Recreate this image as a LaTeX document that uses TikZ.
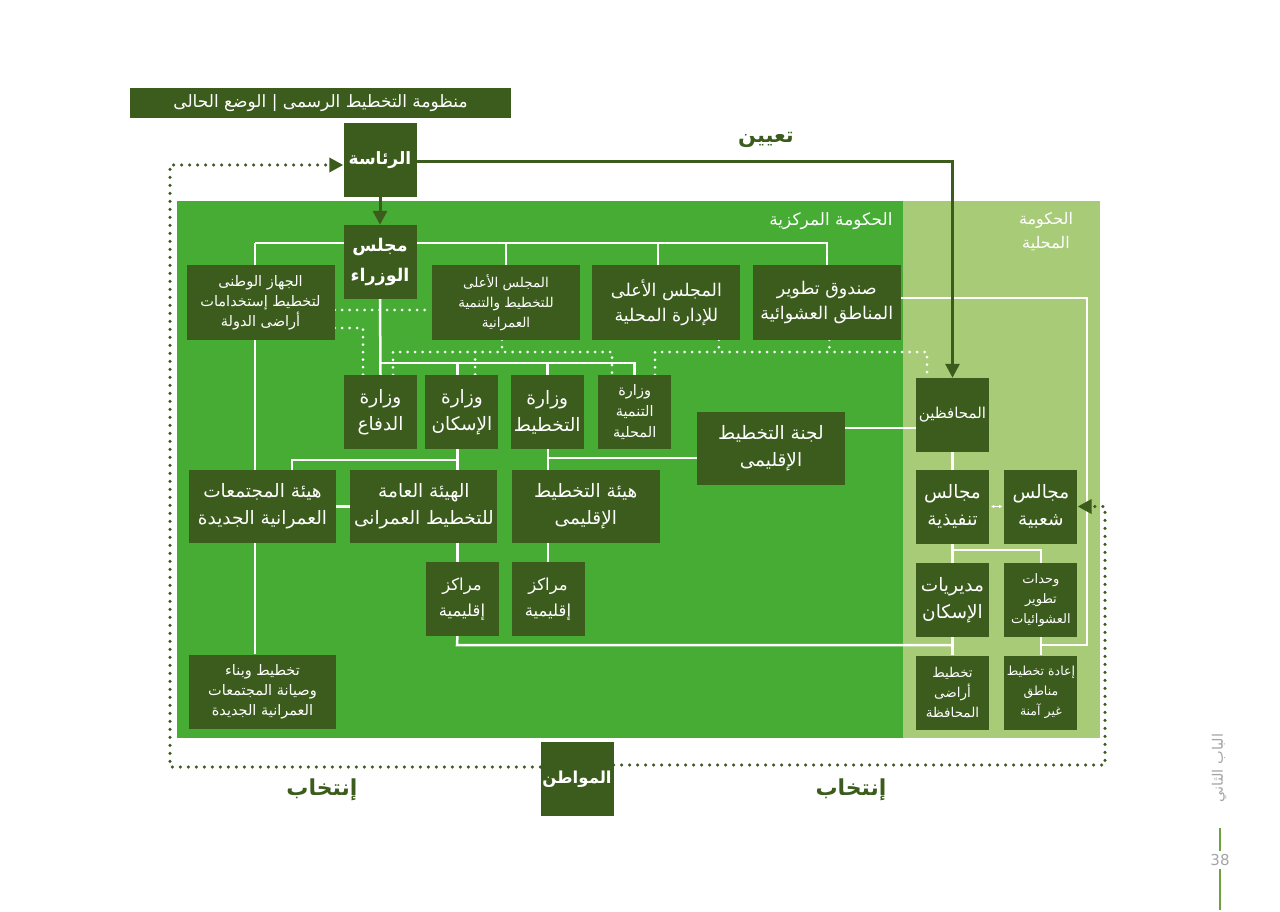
\documentclass[tikz,border=0pt]{standalone}
\usepackage{fontspec}
\usepackage{tikz}
\usetikzlibrary{arrows.meta,positioning}
\newfontfamily\arabicfont[Script=Arabic]{DejaVu Sans}
\newfontfamily\sidefont{DejaVu Sans}
\TeXXeTstate=1
\pgfdeclarelayer{background layer}
\pgfdeclarelayer{line layer}
\pgfsetlayers{background layer,line layer,main}
\definecolor{dkgreen}{RGB}{60,92,30}
\definecolor{midgreen}{RGB}{70,172,52}
\definecolor{ltgreen}{RGB}{168,203,120}
\definecolor{pagegrey}{RGB}{165,165,165}
\definecolor{pagegreen}{RGB}{110,160,60}
\newcommand{\rl}[1]{\beginR #1\endR}

\begin{document}
\begin{tikzpicture}[x=1pt,y=-1pt]
\tikzstyle{darkbox}=[fill=dkgreen,text=white,inner sep=0pt,align=center]
\tikzstyle{sqbox}=[darkbox,minimum width=73pt,minimum height=74pt]
\tikzstyle{widebox}=[darkbox,minimum width=148pt,minimum height=74pt]
\tikzstyle{smalltext}=[font=\arabicfont\fontsize{14.5}{20}\selectfont]
\tikzstyle{tinytext}=[font=\arabicfont\fontsize{13.5}{20}\selectfont]
\tikzstyle{midtext}=[font=\arabicfont\fontsize{17.5}{25}\selectfont]
\tikzstyle{largetext}=[font=\arabicfont\fontsize{18.5}{27}\selectfont]
\tikzstyle{bigtext}=[font=\arabicfont\bfseries\fontsize{17.5}{30}\selectfont]
\tikzstyle{wline}=[white,line width=2.5pt]
\tikzstyle{wdots}=[white,line width=3pt,line cap=round,dash pattern=on 0pt off 7.5pt]
\tikzstyle{gdots}=[dkgreen,line width=3.5pt,line cap=round,dash pattern=on 0pt off 8pt]
\tikzstyle{garrow}=[dkgreen,line width=3pt,-{Triangle[length=14pt,width=14pt]}]
\useasboundingbox (0,0) rectangle (1280,912);
% regions
\begin{pgfonlayer}{background layer}
\fill [midgreen] (177,201) rectangle (903,738);
\fill [ltgreen] (903,201) rectangle (1100,738);
\end{pgfonlayer}
\node [darkbox,minimum width=381pt,minimum height=30pt,font=\arabicfont\fontsize{17}{20}\selectfont] (title) at (320.5,103) {\rl{منظومة التخطيط الرسمى | الوضع الحالى}};
\node [white,anchor=east,font=\arabicfont\fontsize{17}{20}\selectfont] (markazia) at (896,221) {\rl{الحكومة المركزية}};
\node [white,align=center,font=\arabicfont\fontsize{16}{24}\selectfont] (mahallia) at (1046,232) {\rl{الحكومة}\\\rl{المحلية}};
% central government
\node [sqbox,bigtext,font=\arabicfont\bfseries\fontsize{17}{28}\selectfont] (riasa) at (380,160) {\rl{الرئاسة}};
\node [sqbox,bigtext] (wuzara) at (380,262) {\rl{مجلس}\\\rl{الوزراء}};
\node [widebox,smalltext] (jihaz) at (260.5,302.5) {\rl{الجهاز الوطنى}\\\rl{لتخطيط إستخدامات}\\\rl{أراضى الدولة}};
\node [widebox,tinytext] (aala) at (506,302.5) {\rl{المجلس الأعلى}\\\rl{للتخطيط والتنمية}\\\rl{العمرانية}};
\node [widebox,midtext,right=12pt of aala] (idara) {\rl{المجلس الأعلى}\\\rl{للإدارة المحلية}};
\node [widebox,midtext,right=12pt of idara] (sunduq) {\rl{صندوق تطوير}\\\rl{المناطق العشوائية}};
\node [sqbox,largetext] (difaa) at (380.5,412) {\rl{وزارة}\\\rl{الدفاع}};
\node [sqbox,largetext,right=8pt of difaa] (iskan) {\rl{وزارة}\\\rl{الإسكان}};
\node [sqbox,largetext,right=12pt of iskan] (takhtit) {\rl{وزارة}\\\rl{التخطيط}};
\node [sqbox,font=\arabicfont\fontsize{14.5}{21}\selectfont,right=14pt of takhtit] (tanmia) {\rl{وزارة}\\\rl{التنمية}\\\rl{المحلية}};
\node [widebox,largetext,minimum height=73pt] (lajna) at (771,448.5) {\rl{لجنة التخطيط}\\\rl{الإقليمى}};
\node [widebox,largetext,minimum width=147pt,minimum height=73pt] (mujtamaat) at (262.5,506.5) {\rl{هيئة المجتمعات}\\\rl{العمرانية الجديدة}};
\node [widebox,largetext,minimum width=147pt,minimum height=73pt,right=14pt of mujtamaat] (amma) {\rl{الهيئة العامة}\\\rl{للتخطيط العمرانى}};
\node [widebox,largetext,minimum height=73pt,right=14pt of amma] (iqlimi) {\rl{هيئة التخطيط}\\\rl{الإقليمى}};
\node [sqbox,font=\arabicfont\fontsize{16.5}{26}\selectfont] (markaz1) at (462,599) {\rl{مراكز}\\\rl{إقليمية}};
\node [sqbox,font=\arabicfont\fontsize{16.5}{26}\selectfont] (markaz2) at (548,599) {\rl{مراكز}\\\rl{إقليمية}};
\node [widebox,smalltext,minimum width=147pt] (bina) at (262.5,691.5) {\rl{تخطيط وبناء}\\\rl{وصيانة المجتمعات}\\\rl{العمرانية الجديدة}};
% local government
\node [sqbox,font=\arabicfont\fontsize{15}{18}\selectfont] (muhafizin) at (952.5,415) {\rl{المحافظين}};
\node [sqbox,largetext] (tanfizia) at (952.5,506.5) {\rl{مجالس}\\\rl{تنفيذية}};
\node [sqbox,largetext,right=15pt of tanfizia] (shaabia) {\rl{مجالس}\\\rl{شعبية}};
\node [sqbox,largetext] (mudiriat) at (952.5,600) {\rl{مديريات}\\\rl{الإسكان}};
\node [sqbox,font=\arabicfont\fontsize{13}{20}\selectfont,right=15pt of mudiriat] (wahadat) {\rl{وحدات}\\\rl{تطوير}\\\rl{العشوائيات}};
\node [sqbox,tinytext] (aradi) at (952.5,692.5) {\rl{تخطيط}\\\rl{أراضى}\\\rl{المحافظة}};
\node [sqbox,font=\arabicfont\fontsize{12.5}{20}\selectfont,right=15pt of aradi] (iada) {\rl{إعادة تخطيط}\\\rl{مناطق}\\\rl{غير آمنة}};
\node [sqbox,bigtext,font=\arabicfont\bfseries\fontsize{16.5}{28}\selectfont] (citizen) at (577,779) {\rl{المواطن}};
% labels
\node [dkgreen,font=\arabicfont\bfseries\fontsize{21}{24}\selectfont] (taayin) at (766,140) {\rl{تعيين}};
\node [dkgreen,font=\arabicfont\bfseries\fontsize{22}{26}\selectfont] (intikhab1) at (322,790) {\rl{إنتخاب}};
\node [dkgreen,font=\arabicfont\bfseries\fontsize{22}{26}\selectfont] (intikhab2) at (851,790) {\rl{إنتخاب}};
\node [pagegrey,rotate=90,font=\arabicfont\fontsize{14.5}{17}\selectfont] (bab) at (1219,768) {\rl{الباب الثاني}};
\node [pagegrey,font=\sidefont\fontsize{15}{18}\selectfont] (pagenum) at (1220,860) {38};
\coordinate (pg1) at (1220,828);
\coordinate (pg2) at (1220,910);
\draw [pagegreen,line width=2pt] (pg1) -- (pg1 |- pagenum.north);
\draw [pagegreen,line width=2pt] (pg2 |- pagenum.south) -- (pg2);
% connectors
\begin{pgfonlayer}{line layer}
\coordinate (topl) at (255,243);
\coordinate (topr) at (sunduq.north |- topl);
\coordinate (idtop) at ([xshift=-8.5pt]idara.north);
\draw [wline] (topl) -- (topr) -- (sunduq.north);
\draw [wline] (topl) -- (topl |- bina.north);
\draw [wline] (aala.north |- topl) -- (aala.north);
\draw [wline] (idtop |- topl) -- (idtop);
\coordinate (minl) at (380,363);
\coordinate (minr) at (tanmia.north |- minl);
\coordinate (iskx) at ([xshift=-4.5pt]iskan.south);
\draw [wline] (wuzara.south) -- (difaa.north);
\draw [wline] (minl) -- (minr) -- (tanmia.north);
\draw [wline] (iskx |- minl) -- (iskan.north -| iskx);
\draw [wline] (takhtit.north |- minl) -- (takhtit.north);
\draw [wline] (iskx) -- (markaz1.north -| iskx);
\coordinate (j1) at (292,460);
\draw [wline] (j1 |- mujtamaat.north) -- (j1) -- (j1 -| iskx);
\draw [wline] (mujtamaat.east) -- (amma.west);
\draw [wline] (takhtit.south -| markaz2.north) -- (markaz2.north);
\coordinate (j3) at (548,458);
\draw [wline] (j3) -- (j3 -| lajna.west);
\draw [wline] ([yshift=20.5pt]lajna.east) -- ([yshift=20.5pt]lajna.east -| muhafizin.west);
\coordinate (j4) at (457,645);
\draw [wline] (markaz1.south -| iskx) -- (j4) -- (j4 -| aradi.north);
\draw [wline] (muhafizin.south) -- (aradi.north);
\coordinate (j5) at (952.5,550);
\draw [wline] (j5) -| (wahadat.north);
\coordinate (j6) at (1087,645);
\draw [wline] ([yshift=4.5pt]sunduq.east) -| (j6) -- (j6 -| iada.north);
\draw [wline] (wahadat.south) -- (iada.north);
% white dotted
\draw [wdots] ([yshift=-7.5pt]jihaz.east) -- ([yshift=-7.5pt]jihaz.east -| aala.west);
\draw [wdots] ([yshift=-25.5pt]jihaz.east) -| ([xshift=-17.5pt]difaa.north);
\coordinate (w1) at (393,352);
\coordinate (w2) at (612,352);
\coordinate (w3) at (475,352);
\draw [wdots] (w1 |- difaa.north) -- (w1) -- (w2) -- (w2 |- tanmia.north);
\draw [wdots] (w3) -- (w3 |- iskan.north);
\draw [wdots] ([xshift=-4pt]aala.south) -- ([xshift=-4pt]aala.south |- w1);
\coordinate (w4) at (655,352);
\coordinate (w5) at (927,352);
\draw [wdots] (w4 |- tanmia.north) -- (w4) -- (w5) -- (w5 |- muhafizin.north);
\draw [wdots] ([xshift=52.5pt]idara.south) -- ([xshift=52.5pt]idara.south |- w4);
\draw [wdots] ([xshift=2.5pt]sunduq.south) -- ([xshift=2.5pt]sunduq.south |- w4);
% dark green
\draw [garrow] ([yshift=-2pt]riasa.east) -| (muhafizin.north);
\draw [garrow] (riasa.south) -- (wuzara.north);
\coordinate (dtl) at (170,165);
\coordinate (dbr) at (1105,765);
\draw [gdots,-{Triangle[length=14pt,width=14pt]}] ([yshift=12pt]citizen.west) -| (dtl) -- ([yshift=-5pt]riasa.west);
\draw [gdots,-{Triangle[length=14pt,width=14pt]}] ([yshift=14pt]citizen.east) -- (dbr) |- (shaabia.east);
\end{pgfonlayer}
\draw [white,line width=1pt,{Triangle[length=3pt,width=3pt]}-{Triangle[length=3pt,width=3pt]}] ([xshift=2pt]tanfizia.east) -- ([xshift=-2pt]shaabia.west);
\end{tikzpicture}
\end{document}
